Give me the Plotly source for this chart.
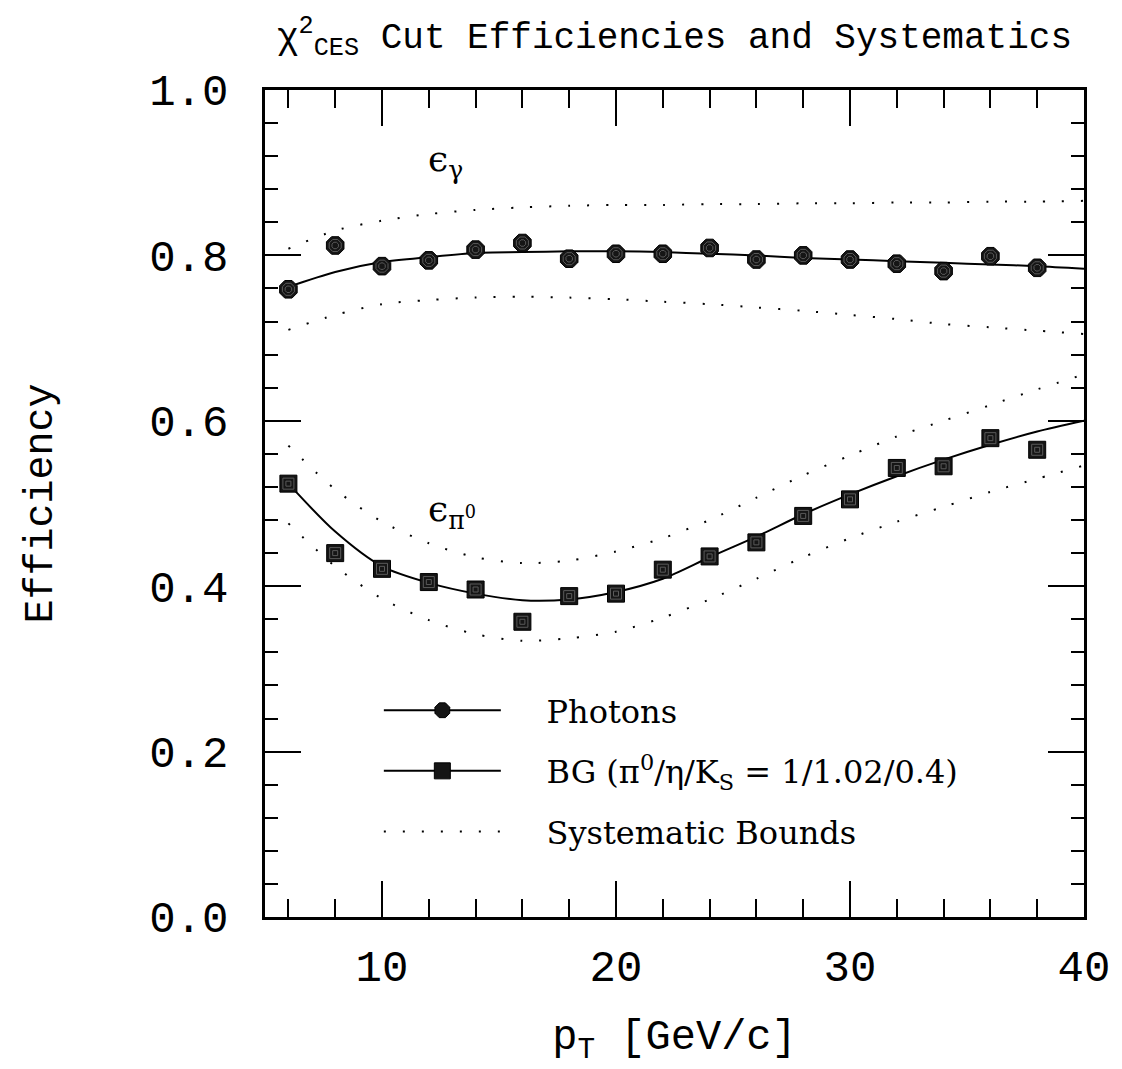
import plotly.graph_objects as go

# ---------------- data ----------------
pt = [6, 8, 10, 12, 14, 16, 18, 20, 22, 24, 26, 28, 30, 32, 34, 36, 38]
photon_eff = [0.759, 0.812, 0.787, 0.794, 0.807, 0.815, 0.796, 0.802, 0.802,
              0.809, 0.795, 0.800, 0.795, 0.790, 0.781, 0.799, 0.785]
bg_eff = [0.524, 0.440, 0.421, 0.405, 0.396, 0.357, 0.388, 0.391, 0.420,
          0.436, 0.453, 0.485, 0.505, 0.543, 0.545, 0.579, 0.565]

fit_pt = [6, 8, 10, 12, 14, 16, 18, 20, 22, 24, 26, 28, 30, 32, 34, 36, 38, 40]
photon_fit = [0.762, 0.780, 0.792, 0.798, 0.803, 0.804, 0.805, 0.805, 0.804,
              0.802, 0.800, 0.797, 0.795, 0.793, 0.791, 0.789, 0.787, 0.784]
photon_upper = [0.808, 0.830, 0.842, 0.850, 0.855, 0.858, 0.860, 0.861, 0.861,
                0.862, 0.862, 0.863, 0.863, 0.864, 0.864, 0.865, 0.865, 0.866]
photon_lower = [0.710, 0.728, 0.741, 0.746, 0.749, 0.750, 0.749, 0.747, 0.744,
                0.741, 0.737, 0.733, 0.728, 0.723, 0.717, 0.713, 0.709, 0.705]
bg_fit = [0.524, 0.466, 0.424, 0.404, 0.391, 0.383, 0.384, 0.393, 0.409,
          0.435, 0.460, 0.487, 0.511, 0.533, 0.553, 0.571, 0.587, 0.600]
bg_upper = [0.570, 0.517, 0.478, 0.452, 0.435, 0.428, 0.431, 0.442, 0.458,
            0.480, 0.507, 0.534, 0.558, 0.581, 0.600, 0.619, 0.638, 0.656]
bg_lower = [0.476, 0.424, 0.385, 0.359, 0.342, 0.334, 0.337, 0.345, 0.362,
            0.384, 0.409, 0.435, 0.458, 0.478, 0.496, 0.514, 0.530, 0.546]

x_ticks = [10, 20, 30, 40]
y_ticks = [0.0, 0.2, 0.4, 0.6, 0.8, 1.0]


def gapped(xs, ys):
    """Insert gaps so lines+markers shows only markers (legend keeps the line)."""
    gx, gy = [], []
    for a, b in zip(xs, ys):
        gx += [a, None]
        gy += [b, None]
    return gx, gy


DOT = "2px,17px"
PAD = "\u00a0" * 4
fig = go.Figure()

# systematic bounds
for ys, show in [(photon_upper, False), (photon_lower, False),
                 (bg_upper, False), (bg_lower, True)]:
    fig.add_trace(go.Scatter(
        x=fit_pt, y=ys, mode="lines", line=dict(color="black", width=2, dash=DOT,
                                                 shape="spline", smoothing=0.8),
        name=PAD + "Systematic Bounds", showlegend=show, legendgroup="sys",
        legendrank=3, hoverinfo="skip"))

# fits
for ys in [photon_fit, bg_fit]:
    fig.add_trace(go.Scatter(
        x=fit_pt, y=ys, mode="lines",
        line=dict(color="black", width=2, shape="spline", smoothing=0.8),
        showlegend=False, hoverinfo="skip"))

# photon points
gx, gy = gapped(pt, photon_eff)
fig.add_trace(go.Scatter(
    x=gx, y=gy, mode="lines+markers", name=PAD + "Photons", legendgroup="ph",
    legendrank=1, line=dict(color="black", width=2),
    marker=dict(symbol="octagon", size=19, color="#151515",
                line=dict(color="black", width=1))))
for s in [13, 7]:
    fig.add_trace(go.Scatter(
        x=pt, y=photon_eff, mode="markers", showlegend=False, hoverinfo="skip",
        marker=dict(symbol="octagon-open", size=s, color="#5a5a5a",
                    line=dict(width=1, color="#5a5a5a"))))

# background points
gx, gy = gapped(pt, bg_eff)
fig.add_trace(go.Scatter(
    x=gx, y=gy, mode="lines+markers",
    name=PAD + "BG (π<sup>0</sup>/η/K<sub>S</sub> = 1/1.02/0.4)", legendgroup="bg",
    legendrank=2, line=dict(color="black", width=2),
    marker=dict(symbol="square", size=17, color="#151515",
                line=dict(color="black", width=1))))
for s in [11, 5]:
    fig.add_trace(go.Scatter(
        x=pt, y=bg_eff, mode="markers", showlegend=False, hoverinfo="skip",
        marker=dict(symbol="square-open", size=s, color="#5a5a5a",
                    line=dict(width=1, color="#5a5a5a"))))

MONO = "Liberation Mono"
SERIF = "DejaVu Serif"

axis_common = dict(
    showline=True, linecolor="black", linewidth=2.5, mirror="allticks",
    ticks="inside", tickcolor="black", tickwidth=1.5, ticklen=36,
    showgrid=False, zeroline=False,
    tickfont=dict(family=MONO, size=44, color="black"),
)

fig.update_layout(
    width=1122, height=1069,
    margin=dict(l=265, r=28, t=90, b=152),
    paper_bgcolor="white", plot_bgcolor="white",
    title=dict(text="χ<sup>2</sup><sub>CES</sub> Cut Efficiencies and Systematics",
               x=0.5, xref="paper", y=0.967, yanchor="middle",
               font=dict(family=MONO, size=36, color="black")),
    xaxis=dict(range=[5, 40], tickvals=x_ticks, ticktext=[str(v) for v in x_ticks],
               minor=dict(dtick=2, tick0=0, ticks="inside", ticklen=18,
                          tickwidth=1.5, tickcolor="black"),
               ticklabelstandoff=8,
               title=dict(text="p<sub>T</sub> [GeV/c]", standoff=28,
                          font=dict(family=MONO, size=42, color="black")),
               **axis_common),
    yaxis=dict(range=[0, 1], tickvals=y_ticks,
               ticktext=[f"{v:.1f}" for v in y_ticks],
               minor=dict(dtick=0.04, tick0=0, ticks="inside", ticklen=13,
                          tickwidth=1.5, tickcolor="black"),
               ticklabelstandoff=25,
               title=dict(text="Efficiency", standoff=85,
                          font=dict(family=MONO, size=40, color="black")),
               **axis_common),
    legend=dict(x=0.139, y=0.283, xanchor="left", yanchor="top",
                bgcolor="rgba(0,0,0,0)", traceorder="grouped",
                tracegroupgap=16, itemwidth=117,
                font=dict(family=SERIF, size=32, color="black")),
    annotations=[
        dict(x=12.7, y=0.913, xref="x", yref="y", showarrow=False,
             text="ϵ<sub>γ</sub>", font=dict(family=SERIF, size=36, color="black")),
        dict(x=13.0, y=0.49, xref="x", yref="y", showarrow=False,
             text="ϵ<sub>π<sup>0</sup></sub>",
             font=dict(family=SERIF, size=36, color="black")),
    ],
    showlegend=True,
)

fig.write_html("out.html")
